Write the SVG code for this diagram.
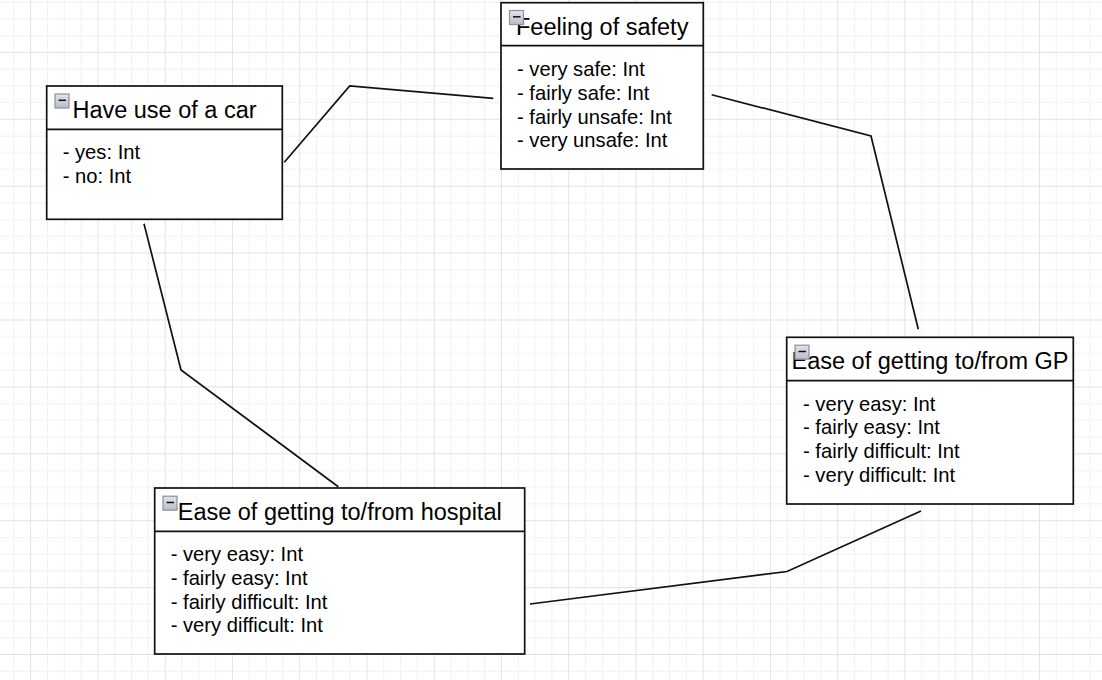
<svg xmlns="http://www.w3.org/2000/svg" xmlns:xlink="http://www.w3.org/1999/xlink" width="1102" height="680" viewBox="0 0 1102 680">
  <style>
    .box { fill: #ffffff; stroke: #111111; stroke-width: 1.7; }
    .div { stroke: #111111; stroke-width: 1.7; }
    .title { font-family: "Liberation Sans", Arial, sans-serif; font-size: 23.5px; fill: #000000; text-anchor: middle; }
    .attr { font-family: "Liberation Sans", Arial, sans-serif; font-size: 20.2px; fill: #000000; }
    .edge { fill: none; stroke: #111111; stroke-width: 1.7; stroke-linejoin: miter; }
  </style>
  <defs>
    <pattern id="grid" patternUnits="userSpaceOnUse" x="30.2" y="51.9" width="67.25" height="66.9">
      <rect x="16.81" y="0" width="1" height="66.9" fill="#f1f1f1"/>
      <rect x="33.62" y="0" width="1" height="66.9" fill="#f1f1f1"/>
      <rect x="50.44" y="0" width="1" height="66.9" fill="#f1f1f1"/>
      <rect x="0" y="16.72" width="67.25" height="1" fill="#f1f1f1"/>
      <rect x="0" y="33.45" width="67.25" height="1" fill="#f1f1f1"/>
      <rect x="0" y="50.17" width="67.25" height="1" fill="#f1f1f1"/>
      <rect x="0" y="0" width="1" height="66.9" fill="#e2e2e2"/>
      <rect x="0" y="0" width="67.25" height="1" fill="#e2e2e2"/>
    </pattern>
    <linearGradient id="iconfill" x1="0" y1="0" x2="0" y2="1">
      <stop offset="0" stop-color="#e2e4ea"/>
      <stop offset="1" stop-color="#b9bdc9"/>
    </linearGradient>
    <g id="collapse">
      <rect x="0.5" y="0.5" width="14" height="14" fill="url(#iconfill)" stroke="#8a90a2" stroke-width="1.2"/>
      <line x1="4" y1="6.8" x2="11.5" y2="6.8" stroke="#111111" stroke-width="1.5"/>
    </g>
  </defs>

  <rect x="0" y="0" width="1102" height="680" fill="#ffffff"/>
  <rect x="0" y="0" width="1102" height="680" fill="url(#grid)"/>

  <g id="connectors">
    <polyline class="edge" points="284.3,162.3 349.7,86 493.3,98.3"/>
    <polyline class="edge" points="711.7,94.7 871,136 918.3,329.3"/>
    <polyline class="edge" points="921,511 787,571.5 530,604"/>
    <polyline class="edge" points="338.3,486.7 181,370 144,223.7"/>
  </g>

  <g id="node-car">
    <rect class="box" x="46.7" y="86" width="235.6" height="133.3"/>
    <line class="div" x1="46.7" y1="129.3" x2="282.3" y2="129.3"/>
    <text class="title" x="164.5" y="117.5">Have use of a car</text>
    <use xlink:href="#collapse" x="54.5" y="93.5"/>
    <text class="attr" x="62.7" y="159.3">- yes: Int</text>
    <text class="attr" x="62.7" y="183">- no: Int</text>
  </g>

  <g id="node-safety">
    <rect class="box" x="501" y="2.7" width="202.3" height="166.3"/>
    <line class="div" x1="501" y1="45.7" x2="703.3" y2="45.7"/>
    <text class="title" x="602.2" y="34.6">Feeling of safety</text>
    <use xlink:href="#collapse" x="509" y="10"/>
    <text class="attr" x="517" y="76">- very safe: Int</text>
    <text class="attr" x="517" y="99.8">- fairly safe: Int</text>
    <text class="attr" x="517" y="123.6">- fairly unsafe: Int</text>
    <text class="attr" x="517" y="147.4">- very unsafe: Int</text>
  </g>

  <g id="node-gp">
    <rect class="box" x="786.7" y="337.3" width="286.6" height="166.7"/>
    <line class="div" x1="786.7" y1="380.7" x2="1073.3" y2="380.7"/>
    <text class="title" x="930" y="369.3">Ease of getting to/from GP</text>
    <use xlink:href="#collapse" x="794.5" y="344.7"/>
    <text class="attr" x="803" y="410.5">- very easy: Int</text>
    <text class="attr" x="803" y="434.2">- fairly easy: Int</text>
    <text class="attr" x="803" y="457.9">- fairly difficult: Int</text>
    <text class="attr" x="803" y="481.6">- very difficult: Int</text>
  </g>

  <g id="node-hospital">
    <rect class="box" x="154.7" y="488" width="370" height="166"/>
    <line class="div" x1="154.7" y1="531.3" x2="524.7" y2="531.3"/>
    <text class="title" x="339.7" y="519.5">Ease of getting to/from hospital</text>
    <use xlink:href="#collapse" x="162.5" y="495.7"/>
    <text class="attr" x="170.7" y="561.3">- very easy: Int</text>
    <text class="attr" x="170.7" y="585">- fairly easy: Int</text>
    <text class="attr" x="170.7" y="608.7">- fairly difficult: Int</text>
    <text class="attr" x="170.7" y="632.4">- very difficult: Int</text>
  </g>
</svg>
